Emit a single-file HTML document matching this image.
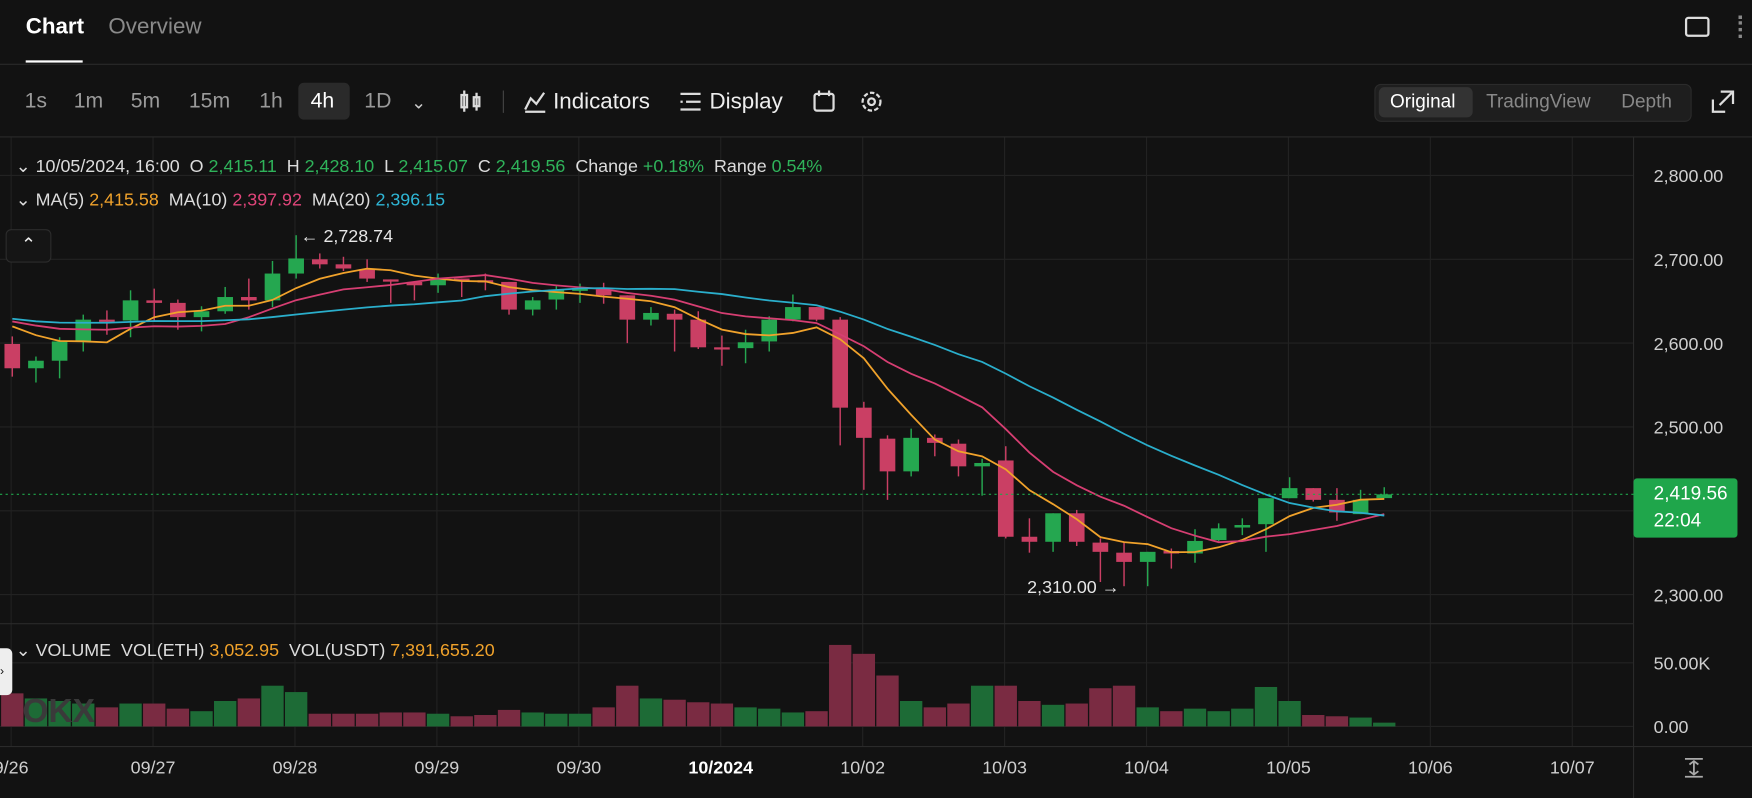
<!DOCTYPE html>
<html><head><meta charset="utf-8">
<style>
html,body{margin:0;padding:0;background:#121212;overflow:hidden;width:1752px;height:798px}
#wrap{position:absolute;left:0;top:0;width:1568px;height:714px;transform:scale(1.11735,1.11765);transform-origin:0 0;font-family:"Liberation Sans",sans-serif;color:#e6e6e6;background:#121212}
.abs{position:absolute;white-space:nowrap}
.tb{position:absolute;top:80px;font-size:19px;color:#9a9a9a}
.g{color:#2fb35a}.o{color:#f0a22b}.p{color:#e0457a}.t{color:#2fb6d6}
.leg{font-size:16px;color:#dcdcdc}
</style></head><body>
<div id="wrap">
 <div class="abs" style="left:23px;top:13px;font-size:20px;color:#fff;font-weight:bold">Chart</div>
 <div class="abs" style="left:23px;top:54px;width:51px;height:2px;background:#fff"></div>
 <div class="abs" style="left:97px;top:13px;font-size:20px;color:#8a8a8a">Overview</div>
 <div class="abs" style="left:1508px;top:15px;width:18px;height:14px;border:2px solid #ddd;border-radius:3px"></div>
 <div class="abs" style="left:1556px;top:14px;width:3px;height:20px;border-left:3px dotted #888"></div>
 <div class="abs" style="left:0;top:57px;width:1568px;height:1px;background:#2a2a2a"></div>

 <div class="tb" style="left:22px">1s</div>
 <div class="tb" style="left:66px">1m</div>
 <div class="tb" style="left:117px">5m</div>
 <div class="tb" style="left:169px">15m</div>
 <div class="tb" style="left:232px">1h</div>
 <div class="abs" style="left:267px;top:74px;width:46px;height:33px;background:#2a2a2a;border-radius:5px"></div>
 <div class="tb" style="left:278px;color:#fff">4h</div>
 <div class="tb" style="left:326px">1D</div>
 <div class="tb" style="left:368px;font-size:16px;top:82px;color:#ccc">&#8964;</div>
 <svg class="abs" style="left:410px;top:80px" width="24" height="22"><g stroke="#ddd" stroke-width="2" fill="none"><rect x="3" y="5" width="5" height="11"/><line x1="5.5" y1="1" x2="5.5" y2="20"/><rect x="14" y="7" width="5" height="8"/><line x1="16.5" y1="3" x2="16.5" y2="19"/></g></svg>
 <div class="abs" style="left:450px;top:81px;width:1px;height:20px;background:#444"></div>
 <svg class="abs" style="left:468px;top:80px" width="22" height="22"><polyline points="2,18 7,8 12,13 19,3" stroke="#ddd" stroke-width="2" fill="none"/><line x1="2" y1="20" x2="20" y2="20" stroke="#ddd" stroke-width="2"/></svg>
 <div class="abs" style="left:495px;top:80px;font-size:20px;color:#eee">Indicators</div>
 <svg class="abs" style="left:608px;top:81px" width="20" height="20"><g stroke="#ddd" stroke-width="2"><line x1="1" y1="3" x2="19" y2="3"/><line x1="6" y1="10" x2="19" y2="10"/><line x1="1" y1="17" x2="19" y2="17"/><line x1="1" y1="10" x2="3" y2="10"/></g></svg>
 <div class="abs" style="left:635px;top:80px;font-size:20px;color:#eee">Display</div>
 <svg class="abs" style="left:727px;top:80px" width="22" height="22"><rect x="2" y="4" width="17" height="15" rx="2" stroke="#ddd" stroke-width="2" fill="none"/><line x1="6" y1="1" x2="6" y2="6" stroke="#ddd" stroke-width="2"/><line x1="15" y1="1" x2="15" y2="6" stroke="#ddd" stroke-width="2"/></svg>
 <svg class="abs" style="left:769px;top:80px" width="22" height="22"><circle cx="11" cy="11" r="8" stroke="#ddd" stroke-width="2" fill="none" stroke-dasharray="4 2"/><circle cx="11" cy="11" r="3" stroke="#ddd" stroke-width="2" fill="none"/></svg>
 <div class="abs" style="left:1230px;top:75px;width:282px;height:32px;background:#1e1e1e;border-radius:6px;border:1px solid #2b2b2b"></div>
 <div class="abs" style="left:1234px;top:78px;width:84px;height:27px;background:#333;border-radius:5px"></div>
 <div class="abs" style="left:1244px;top:81px;font-size:17px;color:#fff">Original</div>
 <div class="abs" style="left:1330px;top:81px;font-size:17px;color:#888">TradingView</div>
 <div class="abs" style="left:1451px;top:81px;font-size:17px;color:#888">Depth</div>
 <svg class="abs" style="left:1531px;top:80px" width="22" height="22"><g stroke="#ddd" stroke-width="2" fill="none"><polyline points="2,9 2,20 13,20"/><polyline points="9,2 20,2 20,13"/><line x1="8" y1="14" x2="19" y2="3"/></g></svg>
 <div class="abs" style="left:0;top:122px;width:1568px;height:1px;background:#2a2a2a"></div>

 <svg id="chart" class="abs" style="left:0;top:0" width="1568" height="714"></svg>

 <div class="abs leg" style="left:14px;top:139px">&#8964; 10/05/2024, 16:00 &nbsp;O <span class="g">2,415.11</span> &nbsp;H <span class="g">2,428.10</span> &nbsp;L <span class="g">2,415.07</span> &nbsp;C <span class="g">2,419.56</span> &nbsp;Change <span class="g">+0.18%</span> &nbsp;Range <span class="g">0.54%</span></div>
 <div class="abs leg" style="left:14px;top:169px">&#8964; MA(5) <span class="o">2,415.58</span> &nbsp;MA(10) <span class="p">2,397.92</span> &nbsp;MA(20) <span class="t">2,396.15</span></div>
 <div class="abs" style="left:5px;top:205px;width:39px;height:28px;border:1px solid #2c2c2c;border-radius:5px;background:#151515;text-align:center;font-size:16px;line-height:28px;color:#eee">&#8963;</div>
 <div class="abs leg" style="left:14px;top:572px">&#8964; VOLUME &nbsp;VOL(ETH) <span class="o">3,052.95</span> &nbsp;VOL(USDT) <span class="o">7,391,655.20</span></div>
 <div class="abs" style="left:0;top:580px;width:11px;height:42px;background:#eee;border-radius:0 5px 5px 0;color:#111;font-size:11px;line-height:42px">›</div>
 <div class="abs" style="left:1462px;top:428px;width:93px;height:53px;background:#1fa64b;border-radius:3px"></div>
 <div class="abs" style="left:1480px;top:432px;font-size:17px;color:#fff">2,419.56</div>
 <div class="abs" style="left:1480px;top:456px;font-size:17px;color:#fff">22:04</div>
 <svg class="abs" style="left:1506px;top:677px" width="20" height="20"><g stroke="#aaa" stroke-width="1.6" fill="none"><line x1="2" y1="2" x2="18" y2="2"/><line x1="2" y1="18" x2="18" y2="18"/><line x1="10" y1="4" x2="10" y2="16"/><polyline points="6,7 10,4 14,7"/><polyline points="6,13 10,16 14,13"/></g></svg>
</div>
<script>
const priceTicks=[2800,2700,2600,2500,2400,2300];
const dateLabels=["9/26","09/27","09/28","09/29","09/30","10/2024","10/02","10/03","10/04","10/05","10/06","10/07"];
const opens =[2599,2570,2579,2602,2628,2627,2651,2648,2631,2638,2655,2651,2683,2700,2694,2688,2676,2673,2669,2677,2675,2673,2640,2652,2664,2664,2657,2628,2635,2628,2595,2594,2602,2628,2643,2628,2523,2486,2447,2487,2480,2453,2460,2369,2363,2397,2362,2350,2339,2352,2349,2365,2380,2384,2415,2427,2413,2396,2415.11];
const highs =[2608,2584,2607,2634,2639,2663,2665,2652,2644,2667,2677,2698,2728.74,2707,2703,2700,2676,2673,2683,2677,2683,2673,2655,2668,2671,2672,2657,2643,2640,2638,2609,2616,2632,2658,2643,2631,2530,2490,2498,2491,2485,2462,2477,2391,2397,2401,2367,2363,2351,2355,2378,2385,2391,2415,2440,2427,2427,2425,2428.10];
const lows  =[2560,2553,2558,2590,2610,2607,2626,2616,2614,2635,2640,2643,2677,2689,2686,2673,2648,2651,2660,2655,2663,2634,2633,2640,2648,2647,2600,2621,2590,2593,2573,2576,2590,2626,2626,2478,2425,2413,2441,2465,2441,2418,2367,2350,2351,2358,2315,2310,2310,2331,2338,2364,2371,2351,2415,2411,2388,2396,2415.07];
const closes=[2570,2579,2602,2628,2626,2651,2648,2631,2638,2655,2651,2683,2701,2694,2689,2677,2674,2669,2676,2675,2674,2640,2651,2664,2665,2657,2628,2636,2628,2595,2594,2601,2628,2643,2628,2523,2487,2447,2487,2481,2453,2457,2369,2363,2397,2363,2351,2339,2351,2349,2364,2379,2383,2415,2427,2413,2398,2413,2419.56];
const priorCloses=[2640,2635,2630,2625,2630,2628,2632,2638,2635,2630,2628,2640,2635,2630,2625,2632,2636,2630,2632];
const volumes=[26,22,20,18,15,18,18,14,12,20,22,32,27,10,10,10,11,11,10,8,9,13,11,10,10,15,32,22,21,19,18,15,14,11,12,64,57,40,20,15,18,32,32,20,17,18,30,32,15,12,14,12,14,31,20,9,8,7,3];
const volTicks=[0,50];

const svg=document.getElementById('chart');
const NS='http://www.w3.org/2000/svg';
const X0=11, STEP=21.17, PRICE_TOP=157, PX_PER=0.75, VOL_BASE=650, VOL_PX=57/50;
const xOf=i=>X0+i*STEP;
const yOf=p=>PRICE_TOP+(2800-p)*PX_PER;
const yVol=v=>VOL_BASE-v*VOL_PX;
function mk(tag,attrs){const e=document.createElementNS(NS,tag);for(const k in attrs)e.setAttribute(k,attrs[k]);svg.appendChild(e);return e;}

priceTicks.forEach(p=>{
 const l=mk('line',{x1:0,x2:1462,y1:yOf(p),y2:yOf(p),stroke:'#222','stroke-width':1});
 
 
 const t=mk('text',{x:1480,y:yOf(p)+6,fill:'#cfcfcf','font-size':16,'font-family':'Liberation Sans, sans-serif'});
 t.textContent=p.toLocaleString('en-US',{minimumFractionDigits:2});
 
 
});
volTicks.forEach(v=>{
 const l=mk('line',{x1:0,x2:1462,y1:yVol(v),y2:yVol(v),stroke:'#222','stroke-width':1});
 
 
 const t=mk('text',{x:1480,y:yVol(v)+6,fill:'#cfcfcf','font-size':16,'font-family':'Liberation Sans, sans-serif'});
 t.textContent=v===0?'0.00':v.toFixed(2)+'K';
 
 
});
dateLabels.forEach((d,k)=>{
 const x=xOf(k*6-0.05);
 const l=mk('line',{x1:x,x2:x,y1:123,y2:668,stroke:'#222','stroke-width':1});
 
 
 const t=mk('text',{x:x,y:692,fill:d==='10/2024'?'#fff':'#cfcfcf','font-size':16,'font-weight':d==='10/2024'?'bold':'normal','text-anchor':'middle','font-family':'Liberation Sans, sans-serif'});
 t.textContent=d;
 
 
});
[[1462,1462,123,714],[0,1462,558,558],[0,1568,668,668]].forEach(a=>{
 const l=mk('line',{x1:a[0],x2:a[1],y1:a[2],y2:a[3],stroke:'#2a2a2a','stroke-width':1});
 
 
});

volumes.forEach((v,i)=>{
 const up=closes[i]>=opens[i];
 const r=mk('rect',{x:xOf(i)-10,y:yVol(v),width:20,height:v*VOL_PX,fill:up?'#1d6b36':'#7a2b42'});
 
 
});
const wm=mk('text',{x:20,y:646,fill:'#3a3a3a','font-size':30,'font-weight':'bold','font-family':'Liberation Sans, sans-serif'});
wm.textContent='OKX';



opens.forEach((o,i)=>{
 const c=closes[i],up=c>=o,col=up?'#25a750':'#ca3f64',x=xOf(i);
 const w=mk('line',{x1:x,x2:x,y1:yOf(highs[i]),y2:yOf(lows[i]),stroke:col,'stroke-width':1.3});
 
 
 const top=yOf(Math.max(o,c)),h=Math.max(2,Math.abs(yOf(o)-yOf(c)));
 const b=mk('rect',{x:x-7,y:top,width:14,height:h,fill:col});
 
 
});

const all=priorCloses.concat(closes);
function ma(n){return closes.map((_,i)=>{let s=0;for(let k=0;k<n;k++)s+=all[priorCloses.length+i-k];return s/n;});}
[[5,'#f0a22b','ma5-line'],[10,'#d63e72','ma10-line'],[20,'#2aaecb','ma20-line']].forEach(([n,col,name])=>{
 const vals=ma(n);
 const pts=vals.map((v,i)=>xOf(i).toFixed(1)+','+yOf(v).toFixed(1)).join(' ');
 const pl=mk('polyline',{points:pts,fill:'none',stroke:col,'stroke-width':1.6});
 
 
});

const last=closes[closes.length-1];
const lp=mk('line',{x1:0,x2:1462,y1:yOf(last),y2:yOf(last),stroke:'#1fa64b','stroke-width':1,'stroke-dasharray':'2 3'});



const hi=highs.indexOf(Math.max(...highs)), lo=lows.indexOf(Math.min(...lows));
const ht=mk('text',{x:xOf(hi)+4,y:yOf(highs[hi])+6,fill:'#e6e6e6','font-size':16,'font-family':'Liberation Sans, sans-serif'});
ht.textContent='← '+highs[hi].toLocaleString('en-US',{minimumFractionDigits:2});


const lt=mk('text',{x:xOf(lo)-4,y:yOf(lows[lo])+6,fill:'#e6e6e6','font-size':16,'text-anchor':'end','font-family':'Liberation Sans, sans-serif'});
lt.textContent=lows[lo].toLocaleString('en-US',{minimumFractionDigits:2})+' →';


</script>
</body></html>
